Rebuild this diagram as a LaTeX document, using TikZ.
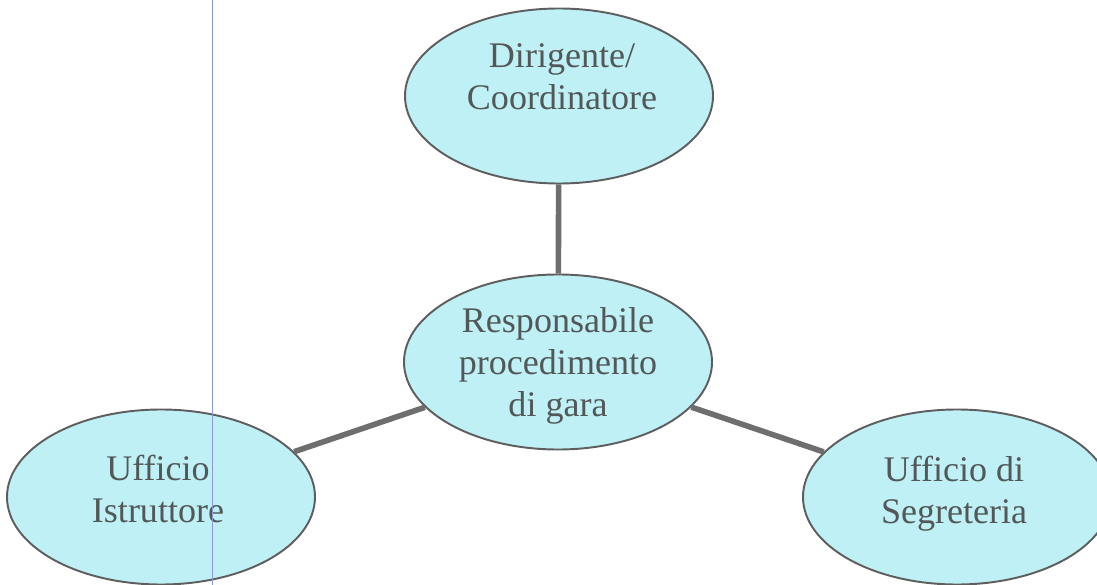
\documentclass[tikz,border=0pt]{standalone}
\usepackage{fontspec}
\setmainfont{Liberation Serif}
\usepackage{tikz}
\usetikzlibrary{shapes.geometric, calc, positioning}
\definecolor{bubblecyan}{HTML}{BEF0F6}
\definecolor{linegray}{HTML}{5E5E5E}
\definecolor{txtgray}{HTML}{525757}
\definecolor{marginblue}{HTML}{8E9AD2}
\tikzset{
	bubble/.style={ellipse, draw=linegray, line width=1.1pt, fill=bubblecyan, minimum width=6.16cm, minimum height=3.5cm, inner sep=0pt},
	bubbletext/.style={text=txtgray, font=\fontsize{20.5}{24}\selectfont, align=center, inner sep=0pt},
	link/.style={draw=linegray!90, line width=3.2pt}
}

\begin{document}
\begin{tikzpicture}
			\useasboundingbox (0,0) rectangle (21.94,-11.7);
			\node [bubble] (dir) at (11.18,-1.92) {};
			\node [bubble] (rup) at (11.16,-7.24) {};
			\node [bubble] (istr) at (3.22,-9.94) {};
			\node [bubble] (segr) at (19.14,-9.94) {};
			\draw [link] (dir) -- (rup);
			\draw [link] (rup) -- (istr);
			\draw [link] (rup) -- (segr);
			\node [bubbletext] (dirtxt) at ($(dir)+(0.06,0.38)$) {Dirigente/\\Coordinatore};
			\node [bubbletext] (ruptxt) at ($(rup)+(0,-0.08)$) {Responsabile\\procedimento\\di gara};
			\node [bubbletext] (istrtxt) at ($(istr)+(-0.06,0.16)$) {Ufficio\\Istruttore};
			\node [bubbletext] (segrtxt) at ($(segr)+(-0.06,0.07)$) {Ufficio di\\Segreteria};
			% margin line of the scan
			\draw [marginblue, line width=0.5pt] (4.24,0) -- (4.24,-11.7);
		\end{tikzpicture}
\end{document}
